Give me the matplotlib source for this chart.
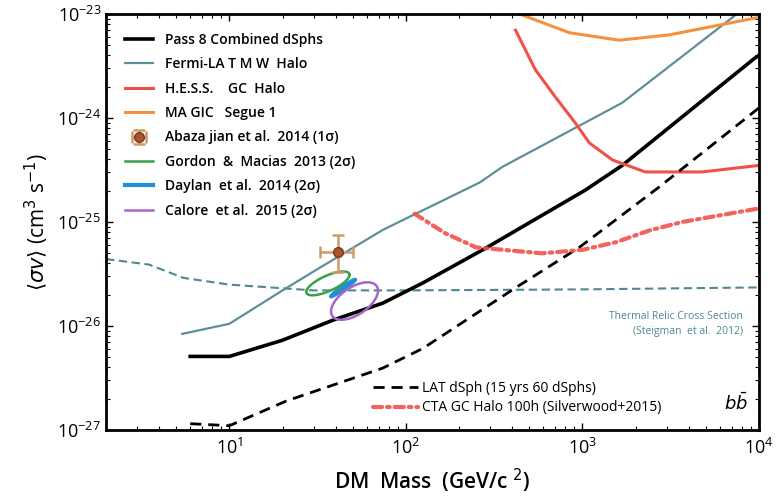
import numpy as np
import matplotlib.pyplot as plt

plt.rcParams['font.family'] = ['Open Sans', 'DejaVu Sans']

# Limit curves (DM mass in GeV, <sigma v> in cm^3/s)
pass8_m = [6, 10, 20, 38.7, 74, 125, 283, 1040, 1680, 9500, 10000]
pass8_sv = [5.1e-27, 5.1e-27, 7.3e-27, 1.14e-26, 1.66e-26, 2.6e-26, 5.6e-26, 2.03e-25,
            3.5e-25, 3.78e-24, 4.0e-24]

fermi_mw_m = [5.4, 10, 20, 31, 74, 262, 353, 1680, 7500]
fermi_mw_sv = [8.4e-27, 1.05e-26, 2.2e-26, 3.46e-26, 8.4e-26, 2.4e-25, 3.4e-25, 1.4e-24, 1e-23]

hess_m = [418, 542, 703, 912, 1096, 1480, 2270, 4760, 10000]
hess_sv = [7.0e-24, 2.9e-24, 1.59e-24, 8.95e-25, 5.75e-25, 3.95e-25, 3.03e-25, 3.03e-25, 3.5e-25]

magic_m = [440, 846, 1620, 3100, 5900, 10000]
magic_sv = [1e-23, 6.6e-24, 5.6e-24, 6.3e-24, 7.8e-24, 9.3e-24]

lat15_m = [6, 10, 21, 74, 125, 413, 960, 2720, 10000]
lat15_sv = [1.15e-27, 1.1e-27, 1.9e-27, 3.94e-27, 6.1e-27, 2.3e-26, 5.7e-26, 2.17e-25, 1.25e-24]

cta_m = [112, 167, 250, 590, 1000, 1550, 2400, 3670, 10000]
cta_sv = [1.2e-25, 7.8e-26, 5.7e-26, 5.0e-26, 5.4e-26, 6.4e-26, 8.3e-26, 1.0e-25, 1.35e-25]

thermal_m = [2, 3.5, 5.5, 10, 30, 100, 1000, 10000]
thermal_sv = [4.4e-26, 3.9e-26, 2.9e-26, 2.5e-26, 2.2e-26, 2.2e-26, 2.25e-26, 2.35e-26]

# Abazajian et al. 2014 point
aba_m, aba_sv = 41, 5.1e-26
aba_m_lo, aba_m_hi = 32.7, 50
aba_sv_lo, aba_sv_hi = 3.3e-26, 7.5e-26

# GC excess contours: centre (log10 m, log10 sv), half-width a, half-height b, slope s (decades)
gordon = (1.558, -25.59, 0.1225, 0.08, 0.67)
daylan = (1.644, -25.635, 0.07, 0.018, 1.16)
calore = (1.709, -25.76, 0.133, 0.15, 0.75)


def contour(c, n=200):
    cx, cy, a, b, s = c
    t = np.linspace(0, 2 * np.pi, n)
    lx = cx + a * np.cos(t)
    ly = cy + b * np.sin(t) + s * a * np.cos(t)
    return 10 ** lx, 10 ** ly


fig = plt.figure(figsize=(7.76, 4.97), dpi=100)
ax = fig.add_axes([0.1366, 0.1348, 0.8414, 0.837])

teal = '#5e8f98'
red = '#ef5148'
orange = '#f5913f'

ax.plot(thermal_m, thermal_sv, color='#4f8792', lw=1.5, ls=(0, (4, 2.2)))
h_pass8, = ax.plot(pass8_m, pass8_sv, color='black', lw=2.6)
h_fermi, = ax.plot(fermi_mw_m, fermi_mw_sv, color=teal, lw=1.6)
h_hess, = ax.plot(hess_m, hess_sv, color=red, lw=2.2)
h_magic, = ax.plot(magic_m, magic_sv, color=orange, lw=2.2)
h_lat, = ax.plot(lat15_m, lat15_sv, color='black', lw=2, ls=(0, (4, 2.5)))
h_cta, = ax.plot(cta_m, cta_sv, color='#f2524c', lw=3, ls=(0, (2.2, 1.2, 0.6, 1.2)),
                 dash_capstyle='round', alpha=0.9)

gx, gy = contour(gordon)
h_gordon, = ax.plot(gx, gy, color='#3aa04a', lw=1.8)
dx, dy = contour(daylan)
ax.fill(dx, dy, color='#1f8fd8', lw=2.5, edgecolor='#1f8fd8')
h_daylan, = ax.plot([], [], color='#1f8fd8', lw=3)
cx, cy = contour(calore)
h_calore, = ax.plot(cx, cy, color='#a765c9', lw=1.8)

h_aba = ax.errorbar([aba_m], [aba_sv],
                    xerr=[[aba_m - aba_m_lo], [aba_m_hi - aba_m]],
                    yerr=[[aba_sv - aba_sv_lo], [aba_sv_hi - aba_sv]],
                    fmt='o', color='#a9542e', ms=7, mec='#7a3a1e',
                    ecolor='#cf9a6a', elinewidth=1.8, capsize=4, capthick=1.8)

ax.set_xscale('log')
ax.set_yscale('log')
ax.set_xlim(2, 1e4)
ax.set_ylim(1e-27, 1e-23)

for sp in ax.spines.values():
    sp.set_linewidth(2)
ax.tick_params(which='both', direction='in', top=True, right=True, labelsize=13)
ax.tick_params(which='major', length=5, width=1)
ax.tick_params(which='minor', length=3, width=0.8)
ax.tick_params(axis='x', pad=6)

ax.set_xlabel(r'DM  Mass  (GeV/c $^{2}$)', fontsize=15, fontweight='semibold', labelpad=6)
ax.set_ylabel(r'$\langle\sigma v\rangle$ (cm$^3$ s$^{-1}$)', fontsize=15, labelpad=4)

leg1 = ax.legend([h_pass8, h_fermi, h_hess, h_magic, h_aba, h_gordon, h_daylan, h_calore],
                 ['Pass 8 Combined dSphs', 'Fermi-LA T M W  Halo', 'H.E.S.S.    GC  Halo',
                  'MA GIC   Segue 1', 'Abaza jian et al.  2014 (1σ)',
                  'Gordon  &  Macias  2013 (2σ)', 'Daylan  et al.  2014 (2σ)',
                  'Calore  et al.  2015 (2σ)'],
                 loc='upper left', bbox_to_anchor=(0.01, 0.985), frameon=False,
                 prop={'size': 10, 'weight': 'semibold'}, handlelength=2.0,
                 labelspacing=0.75, handletextpad=0.9)
ax.add_artist(leg1)

ax.legend([h_lat, h_cta], ['LAT dSph (15 yrs 60 dSphs)', 'CTA GC Halo 100h (Silverwood+2015)'],
          loc='lower left', bbox_to_anchor=(0.39, 0.005), frameon=False,
          prop={'size': 10}, handlelength=3.2, labelspacing=0.3, handletextpad=0.3)

ax.text(0.975, 0.255, 'Thermal Relic Cross Section\n(Steigman  et al.  2012)',
        transform=ax.transAxes, ha='right', va='center', fontsize=7.5,
        color='#4f8792', linespacing=1.4)
ax.text(0.965, 0.065, r'$b\bar{b}$', transform=ax.transAxes, ha='center', va='center',
        fontsize=13)

fig.savefig('out.png', dpi=100)
